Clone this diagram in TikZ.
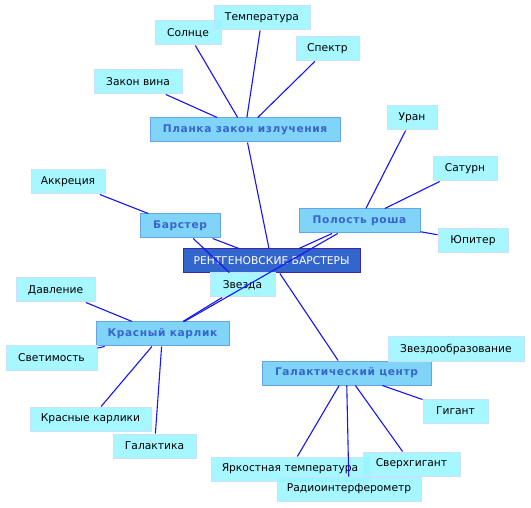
\documentclass[tikz,border=0pt]{standalone}
\usepackage{fontspec}
\setmainfont{DejaVu Sans}
\newfontfamily\midfont[LetterSpace=6]{DejaVu Sans Bold}
\definecolor{leaffill}{RGB}{150,246,255}
\definecolor{leafdraw}{RGB}{200,225,255}
\definecolor{midfill}{RGB}{128,212,248}
\definecolor{middraw}{RGB}{100,165,230}
\definecolor{midtext}{RGB}{55,100,205}
\definecolor{cenfill}{RGB}{51,102,204}
\definecolor{cendraw}{RGB}{60,40,160}
\definecolor{edgecol}{RGB}{20,20,245}
\tikzset{
  x=1pt,y=-1pt,
  leaf/.style={draw=leafdraw,line width=1pt,fill=leaffill,fill opacity=0.85,text opacity=1,minimum height=24pt,inner sep=0pt,font=\fontsize{10.7}{12}\selectfont},
  midnode/.style={draw=middraw,line width=1pt,fill=midfill,minimum height=24pt,inner sep=0pt,text=midtext,font=\midfont\fontsize{10.6}{12}\selectfont},
  cen/.style={draw=cendraw,line width=1pt,fill=cenfill,minimum height=24pt,inner sep=0pt,text=white,font=\fontsize{10.7}{12}\selectfont},
  link/.style={draw=edgecol,line width=1.1pt}
}
\begin{document}
\begin{tikzpicture}
\useasboundingbox (0,0) rectangle (531,508);
% central
\node[cen,minimum width=177] (c) at (271.5,261) {РЕНТГЕНОВСКИЕ БАРСТЕРЫ};
% mid nodes
\node[midnode,minimum width=190] (planck) at (245,130) {Планка закон излучения};
\node[midnode,minimum width=80] (bar) at (180,226) {Барстер};
\node[midnode,minimum width=121] (pol) at (359.5,221) {Полость роша};
\node[midnode,minimum width=133] (kk) at (162.5,334) {Красный карлик};
\node[midnode,minimum width=169] (gc) at (346.5,373) {Галактический центр};
% leaf nodes
\node[leaf,minimum width=66] (sol) at (188,33) {Солнце};
\node[leaf,minimum width=96] (temp) at (262,18) {Температура};
\node[leaf,minimum width=63] (spec) at (327.5,49) {Спектр};
\node[leaf,minimum width=88] (wien) at (138,82) {Закон вина};
\node[leaf,minimum width=50] (uran) at (412,118) {Уран};
\node[leaf,minimum width=64] (sat) at (465,169) {Сатурн};
\node[leaf,minimum width=70] (jup) at (473,241) {Юпитер};
\node[leaf,minimum width=74] (akk) at (68,182) {Аккреция};
\node[leaf,minimum width=65] (star) at (242.5,285) {Звезда};
\node[leaf,minimum width=79] (dav) at (55.5,290) {Давление};
\node[leaf,minimum width=91] (svet) at (51.5,358) {Светимость};
\node[leaf,minimum width=121] (kks) at (90.5,419) {Красные карлики};
\node[leaf,minimum width=83] (gal) at (154.5,446) {Галактика};
\node[leaf,minimum width=136] (zvo) at (456,349) {Звездообразование};
\node[leaf,minimum width=65] (gig) at (455.5,411) {Гигант};
\node[leaf,minimum width=158] (yark) at (290,469) {Яркостная температура};
\node[leaf,minimum width=97] (sgig) at (411.5,464) {Сверхгигант};
\node[leaf,minimum width=144] (radio) at (349,489) {Радиоинтерферометр};
% edges
\draw[link] (planck) -- (sol);
\draw[link] (planck) -- (temp);
\draw[link] (planck) -- (spec);
\draw[link] (planck) -- (wien);
\draw[link] (planck) -- (c);
\draw[link] (pol) -- (uran);
\draw[link] (pol) -- (sat);
\draw[link] (pol) -- (jup);
\draw[link] (pol) -- (c);
\draw[link] (pol) -- (kk);
\draw[link] (bar) -- (akk);
\draw[link] (bar) -- (c);
\draw[link] (bar) -- (star);
\draw[link] (kk) -- (dav);
\draw[link] (kk) -- (svet);
\draw[link] (kk) -- (kks);
\draw[link] (kk) -- (gal);
\draw[link] (kk) -- (star);
\draw[link] (gc) -- (c);
\draw[link] (gc) -- (gig);
\draw[link] (gc) -- (sgig);
\draw[link] (gc) -- (yark);
\draw[link] (gc) -- (radio);
\end{tikzpicture}
\end{document}
